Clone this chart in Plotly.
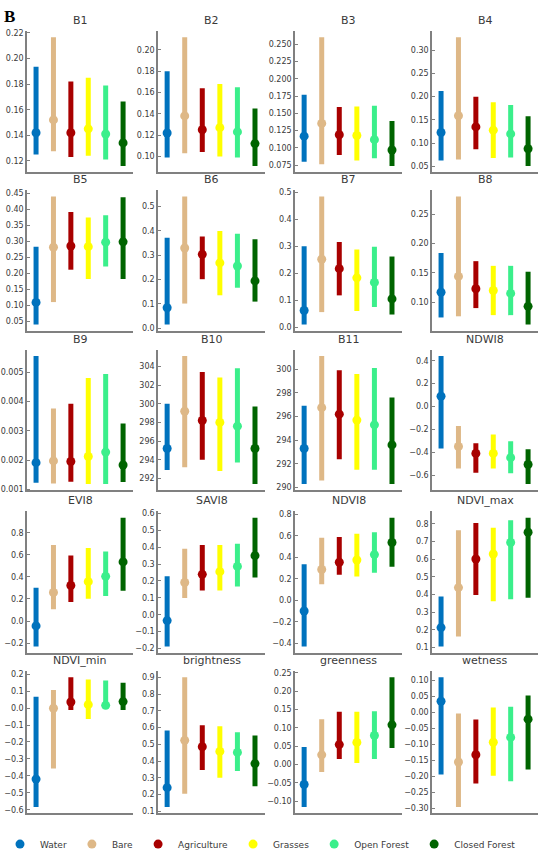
import plotly.graph_objects as go

categories = ["Water", "Bare", "Agriculture", "Grasses", "Open Forest", "Closed Forest"]
colors = ["#0072BD", "#DEB887", "#A80000", "#FFFF00", "#3BEF8B", "#006400"]

# ---- per-panel values: low end, median, high end for each class ----
B1_lo = [0.125, 0.1275, 0.123, 0.124, 0.121, 0.116]
B1_med = [0.142, 0.152, 0.142, 0.145, 0.141, 0.134]
B1_hi = [0.1935, 0.2167, 0.182, 0.185, 0.179, 0.1664]

B2_lo = [0.099, 0.103, 0.104, 0.100, 0.099, 0.091]
B2_med = [0.122, 0.138, 0.125, 0.127, 0.123, 0.112]
B2_hi = [0.180, 0.212, 0.164, 0.168, 0.165, 0.145]

B3_lo = [0.080, 0.0765, 0.090, 0.082, 0.085, 0.074]
B3_med = [0.117, 0.1355, 0.119, 0.118, 0.112, 0.097]
B3_hi = [0.177, 0.260, 0.159, 0.160, 0.161, 0.139]

B4_lo = [0.063, 0.065, 0.087, 0.068, 0.069, 0.051]
B4_med = [0.123, 0.159, 0.135, 0.128, 0.120, 0.088]
B4_hi = [0.212, 0.328, 0.200, 0.188, 0.182, 0.158]

B5_lo = [0.040, 0.110, 0.211, 0.182, 0.221, 0.182]
B5_med = [0.109, 0.281, 0.285, 0.283, 0.297, 0.298]
B5_hi = [0.283, 0.439, 0.391, 0.374, 0.381, 0.437]

B6_lo = [0.015, 0.101, 0.201, 0.135, 0.166, 0.109]
B6_med = [0.084, 0.329, 0.303, 0.268, 0.255, 0.194]
B6_hi = [0.371, 0.540, 0.376, 0.399, 0.388, 0.365]

B7_lo = [0.010, 0.056, 0.118, 0.060, 0.075, 0.047]
B7_med = [0.062, 0.252, 0.217, 0.183, 0.166, 0.105]
B7_hi = [0.300, 0.484, 0.316, 0.288, 0.298, 0.262]

B8_lo = [0.074, 0.076, 0.090, 0.078, 0.078, 0.062]
B8_med = [0.117, 0.144, 0.123, 0.120, 0.115, 0.093]
B8_hi = [0.184, 0.280, 0.170, 0.162, 0.162, 0.152]

B9_lo = [0.00122, 0.00120, 0.00126, 0.00118, 0.00118, 0.00125]
B9_med = [0.00191, 0.00197, 0.00195, 0.00212, 0.00227, 0.00183]
B9_hi = [0.00555, 0.00376, 0.00392, 0.00480, 0.00494, 0.00325]

B10_lo = [292.9, 293.2, 294.0, 292.8, 293.7, 291.4]
B10_med = [295.2, 299.2, 298.2, 298.0, 297.6, 295.2]
B10_hi = [300.0, 305.1, 303.4, 302.8, 303.8, 299.7]

B11_lo = [290.3, 290.6, 292.4, 291.5, 291.5, 290.3]
B11_med = [293.3, 296.75, 296.2, 295.7, 295.3, 293.6]
B11_hi = [296.9, 301.1, 299.9, 299.6, 300.1, 297.6]

NDWI8_lo = [-0.365, -0.539, -0.576, -0.539, -0.581, -0.675]
NDWI8_med = [0.090, -0.348, -0.408, -0.408, -0.445, -0.505]
NDWI8_hi = [0.440, -0.169, -0.320, -0.243, -0.303, -0.371]

EVI8_lo = [-0.230, 0.108, 0.173, 0.203, 0.226, 0.274]
EVI8_med = [-0.044, 0.259, 0.322, 0.357, 0.405, 0.536]
EVI8_hi = [0.301, 0.690, 0.595, 0.663, 0.631, 0.937]

SAVI8_lo = [-0.188, 0.099, 0.144, 0.144, 0.167, 0.220]
SAVI8_med = [-0.035, 0.191, 0.239, 0.255, 0.286, 0.350]
SAVI8_hi = [0.228, 0.391, 0.413, 0.413, 0.421, 0.575]

NDVI8_lo = [-0.430, 0.148, 0.237, 0.222, 0.255, 0.311]
NDVI8_med = [-0.100, 0.286, 0.354, 0.375, 0.425, 0.538]
NDVI8_hi = [0.335, 0.582, 0.588, 0.618, 0.634, 0.769]

NDVImax_lo = [0.105, 0.161, 0.397, 0.362, 0.373, 0.382]
NDVImax_med = [0.212, 0.439, 0.601, 0.630, 0.695, 0.753]
NDVImax_hi = [0.388, 0.764, 0.806, 0.778, 0.821, 0.836]

NDVImin_lo = [-0.583, -0.357, -0.011, -0.064, -0.004, -0.011]
NDVImin_med = [-0.419, -0.001, 0.036, 0.020, 0.016, 0.038]
NDVImin_hi = [0.067, 0.106, 0.182, 0.169, 0.163, 0.149]

bright_lo = [0.126, 0.205, 0.346, 0.300, 0.340, 0.249]
bright_med = [0.241, 0.524, 0.486, 0.458, 0.452, 0.385]
bright_hi = [0.583, 0.902, 0.615, 0.609, 0.573, 0.553]

green_lo = [-0.116, -0.021, 0.015, 0.004, 0.015, 0.045]
green_med = [-0.055, 0.026, 0.054, 0.060, 0.079, 0.108]
green_hi = [0.0475, 0.123, 0.144, 0.144, 0.145, 0.238]

wet_lo = [-0.194, -0.295, -0.222, -0.198, -0.215, -0.178]
wet_med = [0.035, -0.155, -0.132, -0.093, -0.078, -0.021]
wet_hi = [0.110, -0.003, -0.022, 0.015, 0.018, 0.053]

panel_titles = ["B1", "B2", "B3", "B4",
                "B5", "B6", "B7", "B8",
                "B9", "B10", "B11", "NDWI8",
                "EVI8", "SAVI8", "NDVI8", "NDVI_max",
                "NDVI_min", "brightness", "greenness", "wetness"]
panel_lo = [B1_lo, B2_lo, B3_lo, B4_lo, B5_lo, B6_lo, B7_lo, B8_lo, B9_lo, B10_lo,
            B11_lo, NDWI8_lo, EVI8_lo, SAVI8_lo, NDVI8_lo, NDVImax_lo, NDVImin_lo,
            bright_lo, green_lo, wet_lo]
panel_med = [B1_med, B2_med, B3_med, B4_med, B5_med, B6_med, B7_med, B8_med, B9_med, B10_med,
             B11_med, NDWI8_med, EVI8_med, SAVI8_med, NDVI8_med, NDVImax_med, NDVImin_med,
             bright_med, green_med, wet_med]
panel_hi = [B1_hi, B2_hi, B3_hi, B4_hi, B5_hi, B6_hi, B7_hi, B8_hi, B9_hi, B10_hi,
            B11_hi, NDWI8_hi, EVI8_hi, SAVI8_hi, NDVI8_hi, NDVImax_hi, NDVImin_hi,
            bright_hi, green_hi, wet_hi]
tick_steps = [0.02, 0.02, 0.025, 0.05, 0.05, 0.1, 0.1, 0.05, 0.001, 2, 2, 0.2,
              0.2, 0.1, 0.2, 0.1, 0.1, 0.1, 0.05, 0.05]
tick_formats = [".2f", ".2f", ".3f", ".2f", ".2f", ".1f", ".1f", ".2f", ".3f", "d", "d", ".1f",
                ".1f", ".1f", ".1f", ".1f", ".1f", ".1f", ".2f", ".2f"]

# ---- layout geometry (pixels) ----
W, H = 550, 859
col_px = [(27, 133), (158, 265), (295, 402), (432, 538)]
row_px = [(29, 172), (190, 332), (351, 493), (514, 657), (675, 819)]

SPINE = "#808080"
TXT = "#3a3a3a"
FONT = "DejaVu Sans"

fig = go.Figure()
layout = dict(width=W, height=H, margin=dict(l=0, r=0, t=0, b=0),
              paper_bgcolor="white", plot_bgcolor="white",
              font=dict(family=FONT, color=TXT), showlegend=True)
annotations = []

for k, title in enumerate(panel_titles):
    r, c = divmod(k, 4)
    sid = "" if k == 0 else str(k + 1)
    lo, med, hi = panel_lo[k], panel_med[k], panel_hi[k]
    for j, cat in enumerate(categories):
        fig.add_trace(go.Scatter(
            x=[cat], y=[med[j]], xaxis="x" + sid, yaxis="y" + sid,
            mode="markers", name=cat, legendgroup=cat, showlegend=(k == 0),
            marker=dict(size=9, color=colors[j]),
            error_y=dict(type="data", symmetric=False,
                         array=[hi[j] - med[j]], arrayminus=[med[j] - lo[j]],
                         thickness=5, width=0, color=colors[j]),
            hoverinfo="skip"))
    ymin, ymax = min(lo), max(hi)
    pad = 0.05 * (ymax - ymin)
    x0, x1 = col_px[c]
    y0, y1 = row_px[r]
    layout["xaxis" + sid] = dict(
        domain=[x0 / W, x1 / W], anchor="y" + sid, type="category",
        categoryorder="array", categoryarray=categories,
        range=[-0.52, 5.57], showticklabels=False, ticks="",
        showline=True, linecolor=SPINE, linewidth=1.5, showgrid=False, zeroline=False)
    layout["yaxis" + sid] = dict(
        domain=[1 - y1 / H, 1 - y0 / H], anchor="x" + sid,
        range=[ymin - pad, ymax + pad], dtick=tick_steps[k], tick0=0,
        tickformat=tick_formats[k], ticks="inside", ticklen=3, tickwidth=1,
        tickcolor=SPINE, tickfont=dict(size=8, color=TXT, family=FONT),
        showline=True, linecolor=SPINE, linewidth=1.5, showgrid=False, zeroline=False)
    annotations.append(dict(
        text=title, xref="paper", yref="paper", x=(x0 + x1) / 2 / W, y=1 - y0 / H,
        xanchor="center", yanchor="bottom", yshift=2, showarrow=False,
        font=dict(size=11, color=TXT, family=FONT)))

annotations.append(dict(
    text="<b>B</b>", xref="paper", yref="paper", x=2 / W, y=1 - 3 / H,
    xanchor="left", yanchor="top", showarrow=False,
    font=dict(size=17, color="black", family="Liberation Serif")))

layout["annotations"] = annotations
layout["legend"] = dict(orientation="h", x=0, xanchor="left",
                        y=1 - 850 / H, yanchor="middle",
                        font=dict(size=9, color=TXT, family=FONT),
                        itemwidth=30, bgcolor="rgba(0,0,0,0)")
fig.update_layout(**layout)
fig.write_html("out.html", config={"displayModeBar": False},
               post_script="document.body.style.margin='0';")
